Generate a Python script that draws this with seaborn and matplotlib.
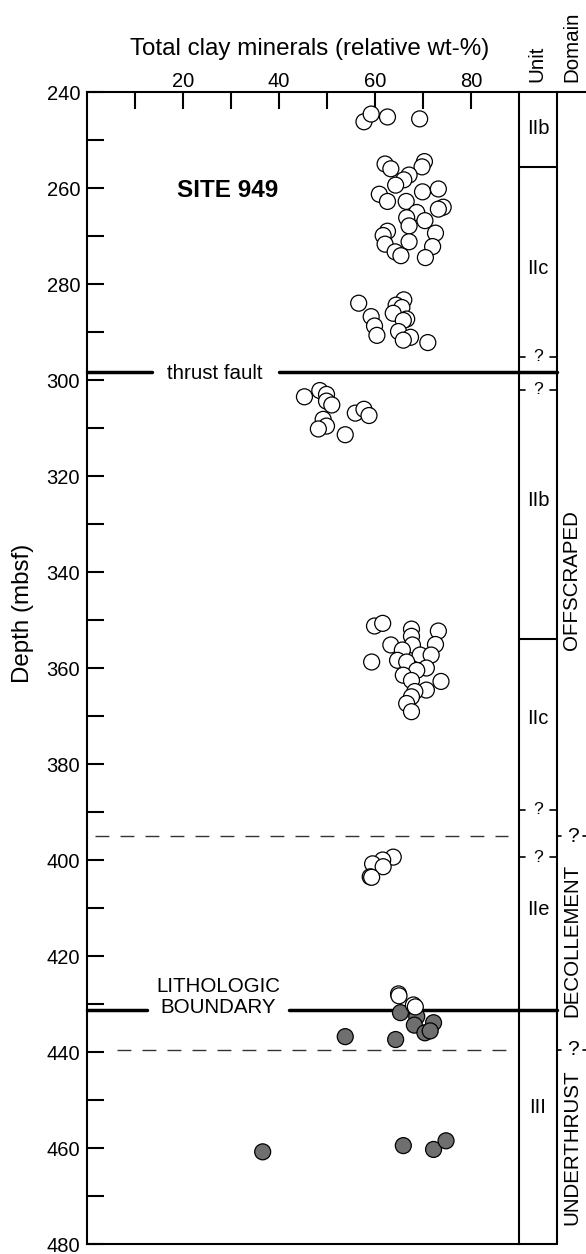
import matplotlib
matplotlib.use("Agg")
import matplotlib.pyplot as plt
import seaborn as sns
import pandas as pd

# Site 949: total clay minerals (relative wt-%) against depth (mbsf)
clay_open = [
    57.7, 59.2, 62.6, 69.3,
    62.1, 63.3, 70.3, 69.8, 67.1, 66.0, 64.3, 60.9, 62.6, 66.5, 69.9, 73.2,
    74.2, 73.2, 68.7, 66.6, 70.4, 67.1, 62.6, 61.7, 62.1, 72.6, 72.0, 67.1,
    64.2, 65.4, 70.5,
    56.6, 59.2, 59.9, 60.4, 66.0, 64.4, 65.6, 63.8, 66.6, 65.9, 64.9, 67.4,
    65.9, 71.0,
    45.3, 48.5, 49.9, 49.9, 51.0, 55.9, 57.7, 58.75, 49.2, 49.9, 48.2, 53.8,
    59.9, 61.6, 67.6, 67.6, 73.2, 72.6, 63.3, 67.8, 65.7, 69.4, 71.7, 64.7,
    59.3, 66.6, 70.7, 68.7, 65.9, 67.6, 73.75, 70.7, 68.3, 67.6, 66.6, 67.6,
    63.8, 61.6, 59.5, 61.7, 59.0, 59.3,
    64.9, 65.0, 68.0, 68.4,
]
depth_open = [
    246.2, 244.6, 245.2, 245.6,
    255.0, 256.0, 254.5, 255.6, 257.3, 258.3, 259.4, 261.3, 262.8, 262.8,
    260.8, 260.2, 264.0, 264.4, 265.1, 266.2, 266.8, 267.9, 269.0, 269.9,
    271.7, 269.4, 272.2, 271.2, 273.3, 274.1, 274.5,
    284.0, 286.8, 288.75, 290.7, 283.3, 284.4, 284.9, 286.1, 287.3, 287.6,
    289.9, 291.1, 291.7, 292.2,
    303.5, 302.2, 303.0, 304.4, 305.2, 306.9, 306.1, 307.4, 308.2, 309.6,
    310.2, 311.4,
    351.25, 350.7, 351.9, 353.4, 352.3, 355.1, 355.2, 355.2, 356.25, 357.3,
    357.3, 358.4, 358.75, 358.75, 360.0, 360.5, 361.5, 362.6, 362.8, 364.6,
    364.9, 366.0, 367.4, 369.1,
    399.4, 400.0, 400.8, 401.4, 403.5, 403.6,
    427.9, 428.3, 430.2, 430.6,
]
clay_under = [65.3, 68.7, 68.2, 72.2, 70.4, 71.5, 53.8, 64.3,
              36.6, 65.9, 72.2, 74.8]
depth_under = [431.8, 432.6, 434.4, 433.9, 436.0, 435.6, 436.8, 437.4,
               460.8, 459.5, 460.3, 458.5]

x_major = [20, 40, 60, 80]
x_minor = [10, 30, 50, 70]
y_major = [240, 260, 280, 300, 320, 340, 360, 380, 400, 420, 440, 460, 480]
y_minor = [250, 270, 290, 310, 330, 350, 370, 390, 410, 430, 450, 470]

# lithostratigraphic units: (label, depth of label)
unit_labels = ["IIb", "IIc", "IIb", "IIc", "IIe", "III"]
unit_label_depths = [247.7, 276.8, 325.0, 370.5, 410.3, 451.5]
unit_bounds = [255.6, 354.0]
unit_uncertain = [295.2, 302.0, 389.5, 399.4]
thrust_depth = 298.4
litho_depth = 431.3
domain_names = ["OFFSCRAPED", "DECOLLEMENT", "UNDERTHRUST"]
domain_label_depths = [341.7, 416.8, 459.8]
domain_bounds = [395.1, 439.5]

sns.set_style("ticks", {"axes.edgecolor": "black", "xtick.color": "black",
                        "ytick.color": "black", "text.color": "black",
                        "axes.labelcolor": "black"})
plt.rcParams["font.family"] = ["Liberation Sans", "DejaVu Sans"]

W, H = 586, 1254
fig = plt.figure(figsize=(W / 100, H / 100), dpi=100)


def fx(px):
    return px / W


def fy(py):
    return 1 - py / H


ax = fig.add_axes([fx(87), fy(1244), 432 / W, 1152 / H])
side = fig.add_axes([fx(519), fy(1244), 67 / W, 1152 / H])

df = pd.DataFrame({
    "clay": clay_under + clay_open,
    "depth": depth_under + depth_open,
    "group": ["under"] * len(clay_under) + ["open"] * len(clay_open),
})
sns.scatterplot(data=df, x="clay", y="depth", hue="group",
                palette={"under": "#6f6f6f", "open": "white"},
                s=132, edgecolor="black", linewidth=0.9, legend=False,
                ax=ax, zorder=5, clip_on=False)

ax.set_xlim(0, 90)
ax.set_ylim(480, 240)
ax.set_xlabel("")
ax.set_ylabel("")
ax.set_xticks(x_major)
ax.set_xticklabels([str(v) for v in x_major])
ax.set_xticks(x_minor, minor=True)
ax.set_yticks(y_major)
ax.set_yticklabels([str(v) for v in y_major])
ax.set_yticks(y_minor, minor=True)
ax.xaxis.tick_top()
ax.tick_params(axis="both", which="both", direction="in", length=12,
               width=1.5, labelsize=14.5)
ax.tick_params(axis="x", which="both", top=True, bottom=False,
               labeltop=True, labelbottom=False, pad=1)
ax.tick_params(axis="y", which="both", left=True, right=False, pad=5)
for sp in ax.spines.values():
    sp.set_linewidth(1.5)
    sp.set_visible(True)

# thick structural boundaries with breaks for their labels
lw_thick = 2.5
ax.plot([0, 13.5], [thrust_depth] * 2, color="black", lw=lw_thick, clip_on=False)
ax.plot([40.0, 90], [thrust_depth] * 2, color="black", lw=lw_thick, clip_on=False)
ax.text(26.7, 299.8, "thrust fault", ha="center", va="baseline", fontsize=14.8)
ax.plot([0, 12.5], [litho_depth] * 2, color="black", lw=lw_thick, clip_on=False)
ax.plot([42.1, 90], [litho_depth] * 2, color="black", lw=lw_thick, clip_on=False)
ax.text(27.3, 427.4, "LITHOLOGIC", ha="center", va="baseline", fontsize=14.8)
ax.text(27.3, 431.9, "BOUNDARY", ha="center", va="baseline", fontsize=14.8)

# dashed domain boundaries
ax.plot([1.7, 87.7], [domain_bounds[0]] * 2, color="#333333", lw=1.0,
        dashes=(10, 8), clip_on=False)
ax.plot([6.2, 89.2], [domain_bounds[1]] * 2, color="#333333", lw=1.0,
        dashes=(10, 8), clip_on=False)

ax.text(39.8, 261.9, "SITE 949", ha="right", va="baseline",
        fontsize=17.5, fontweight="bold")

# unit and domain columns
side.set_xlim(519, 586)
side.set_ylim(480, 240)
side.axis("off")
side.plot([557, 557], [240, 480], color="black", lw=1.5, clip_on=False)
side.plot([519, 586], [240, 240], color="black", lw=1.5, clip_on=False)
side.plot([519, 557], [480, 480], color="black", lw=1.5, clip_on=False)
side.plot([519, 557], [thrust_depth] * 2, color="black", lw=lw_thick, clip_on=False)
side.plot([519, 557], [litho_depth] * 2, color="black", lw=lw_thick, clip_on=False)
for d in unit_bounds:
    side.plot([519, 557], [d, d], color="black", lw=1.5, clip_on=False)
for lab, d in zip(unit_labels, unit_label_depths):
    side.text(538, d, lab, ha="center", va="center", fontsize=14.5)
for d in unit_uncertain:
    side.plot([519, 525], [d, d], color="black", lw=1.2, clip_on=False)
    side.plot([550, 557], [d, d], color="black", lw=1.2, clip_on=False)
    side.text(538, d, "?", ha="center", va="center", fontsize=12.5)
for d in domain_bounds:
    side.plot([557, 561], [d, d], color="black", lw=1.2, clip_on=False)
    side.plot([583, 586], [d, d], color="black", lw=1.2, clip_on=False)
    side.text(573, d, "?", ha="center", va="center", fontsize=15)
for name, d in zip(domain_names, domain_label_depths):
    side.text(572, d, name, rotation=90, ha="center", va="center",
              fontsize=14.8)

fig.text(fx(537), fy(81.7), "Unit", rotation=90, ha="center", va="bottom",
         fontsize=14.8)
fig.text(fx(572), fy(81.7), "Domain", rotation=90, ha="center", va="bottom",
         fontsize=14.8)
fig.text(fx(309.5), fy(55), "Total clay minerals (relative wt-%)",
         ha="center", va="baseline", fontsize=17.4)
fig.text(fx(22.5), fy(613), "Depth (mbsf)", rotation=90, ha="center",
         va="center", fontsize=17.4)

fig.savefig("out.png", dpi=100, facecolor="white")
